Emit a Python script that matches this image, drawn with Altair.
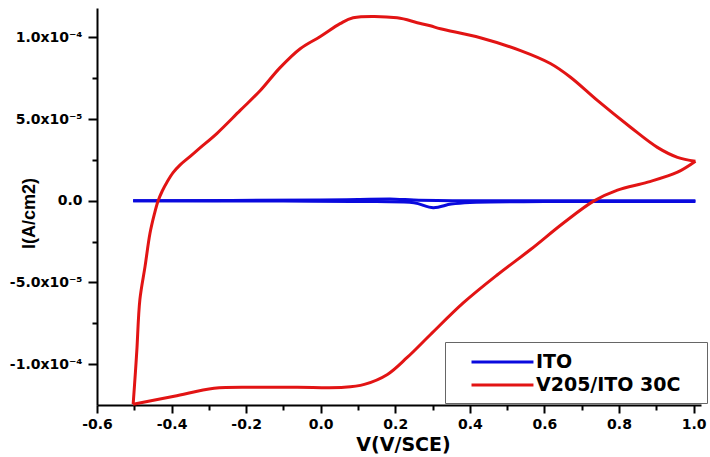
import altair as alt
import pandas as pd

# ---- data (current in units of 1e-5 A/cm2) ----
red_name = "V205/ITO 30C"
# anodic sweep (from -0.5 V up to 1.0 V)
red_fwd_V = [-0.503, -0.497, -0.493, -0.485, -0.471, -0.458, -0.446, -0.436, -0.425, -0.412,
             -0.396, -0.377, -0.350, -0.323, -0.278, -0.216, -0.162, -0.109, -0.055, -0.001,
             0.052, 0.087, 0.205, 0.259, 0.294, 0.321, 0.428, 0.536, 0.616, 0.670,
             0.742, 0.831, 0.903, 0.957, 1.005]
red_fwd_I = [-12.45, -10.5, -9.1, -6.05, -4.0, -2.0, -0.8, 0.0, 0.6, 1.15,
             1.72, 2.2, 2.72, 3.25, 4.13, 5.53, 6.75, 8.15, 9.31, 10.05,
             10.84, 11.2, 11.2, 10.9, 10.71, 10.53, 9.98, 9.19, 8.4, 7.56,
             6.14, 4.5, 3.27, 2.66, 2.42]
# cathodic sweep (from 1.0 V back to -0.5 V)
red_rev_V = [1.005, 0.957, 0.877, 0.796, 0.732, 0.651, 0.562, 0.474, 0.383, 0.294, 0.232,
             0.179, 0.117, 0.063, -0.063, -0.162, -0.286, -0.393, -0.503]
red_rev_I = [2.42, 1.75, 1.14, 0.65, -0.02, -1.36, -3.0, -4.53, -6.24, -8.2, -9.59,
             -10.63, -11.24, -11.42, -11.42, -11.42, -11.48, -11.97, -12.45]

blue_name = "ITO"
blue_fwd_V = [-0.503, 0.0, 0.1, 0.2, 0.25, 0.4, 0.6, 1.005]
blue_fwd_I = [0.0, 0.05, 0.08, 0.1, 0.05, 0.0, 0.0, 0.0]
blue_rev_V = [1.005, 0.6, 0.40, 0.35, 0.302, 0.25, 0.15, -0.1, -0.503]
blue_rev_I = [-0.05, -0.05, -0.1, -0.2, -0.42, -0.12, -0.05, -0.02, 0.0]

series_names = [blue_name, red_name]
series_colors = ["#0a0ade", "#e21414"]

x_major = [-0.6, -0.4, -0.2, 0.0, 0.2, 0.4, 0.6, 0.8, 1.0]
x_minor = [-0.5, -0.3, -0.1, 0.1, 0.3, 0.5, 0.7, 0.9]
y_major = [-10, -5, 0, 5, 10]
y_major_labels = ["-1.0x10\u207b\u2074", "-5.0x10\u207b\u2075", "0.0",
                  "5.0x10\u207b\u2075", "1.0x10\u207b\u2074"]
y_minor = [-7.5, -2.5, 2.5, 7.5]

rows = []
def add(name, seg, vs, cs):
    for i, (v, c) in enumerate(zip(vs, cs)):
        rows.append({"series": name, "seg": name + seg, "V": v, "I": c, "idx": i})
add(blue_name, "f", blue_fwd_V, blue_fwd_I)
add(blue_name, "r", blue_rev_V, blue_rev_I)
add(red_name, "f", red_fwd_V, red_fwd_I)
add(red_name, "r", red_rev_V, red_rev_I)
df = pd.DataFrame(rows)

y_expr = ""
for val, lab in zip(y_major, y_major_labels):
    y_expr += f"datum.value == {val} ? '{lab}' : "
y_expr += "''"

FONT = "DejaVu Sans"
xscale = alt.Scale(domain=[-0.6, 1.02], nice=False, zero=False)
yscale = alt.Scale(domain=[-12.5, 11.8], nice=False, zero=False)

x_axis = alt.Axis(
    values=x_major, orient="bottom", grid=False, labelFlush=False,
    labelExpr="replace(format(datum.value, '.1f'), '\u2212', '-')",
    labelFont=FONT, labelFontWeight="bold", labelFontSize=14, labelColor="black",
    labelPadding=4, tickSize=8, tickWidth=2, tickColor="black",
    domainColor="black", domainWidth=2,
    title="V(V/SCE)", titleFont=FONT, titleFontWeight="bold", titleFontSize=19,
    titleColor="black", titleX=306, titleY=39, titleBaseline="middle", titleAlign="center",
)
y_axis = alt.Axis(
    values=y_major, orient="left", grid=False, labelExpr=y_expr, labelFlush=False,
    labelFont=FONT, labelFontWeight="bold", labelFontSize=14, labelColor="black",
    labelPadding=6, tickSize=9, tickWidth=2, tickColor="black",
    domainColor="black", domainWidth=2,
    title="I(A/cm2)", titleFont="Liberation Sans", titleFontWeight="bold", titleFontSize=18,
    titleColor="black", titleX=-68, titleY=205, titleAngle=270,
    titleBaseline="middle", titleAlign="center",
)
x_axis_minor = alt.Axis(values=x_minor, orient="bottom", grid=False, labels=False,
                        domain=False, tickSize=5, tickWidth=2, tickColor="black", title="")
y_axis_minor = alt.Axis(values=y_minor, orient="left", grid=False, labels=False,
                        domain=False, tickSize=5, tickWidth=2, tickColor="black", title="")

base = alt.Chart(df)

minor = base.mark_line(strokeOpacity=0).encode(
    x=alt.X("V:Q", scale=xscale, axis=x_axis_minor),
    y=alt.Y("I:Q", scale=yscale, axis=y_axis_minor),
    detail="seg:N",
    order="idx:Q",
)

lines = base.mark_line(strokeWidth=3, interpolate="catmull-rom").encode(
    x=alt.X("V:Q", scale=xscale, axis=x_axis),
    y=alt.Y("I:Q", scale=yscale, axis=y_axis),
    color=alt.Color(
        "series:N",
        scale=alt.Scale(domain=series_names, range=series_colors),
        legend=alt.Legend(
            orient="none", legendX=348, legendY=334,
            title=".", titleOrient="right", titleOpacity=0, titlePadding=11,
            titleFont=FONT, titleFontSize=19, titleFontWeight="bold",
            symbolType="M0.62,0H6.52", symbolSize=441, symbolStrokeWidth=3,
            labelFont=FONT, labelFontWeight="bold", labelFontSize=19, labelColor="black",
            labelOffset=59, padding=8, rowPadding=1,
            strokeColor="#666666", fillColor="white",
        ),
    ),
    detail="seg:N",
    order="idx:Q",
)

chart = alt.layer(minor, lines).resolve_axis(x="independent", y="independent").properties(
    width=604, height=397,
    autosize=alt.AutoSizeParams(type="none"),
    padding={"left": 97, "top": 8, "right": 9, "bottom": 52},
    background="white",
).configure_view(stroke=None)

chart.save("out.html", embed_options={"renderer": "svg", "actions": False})
